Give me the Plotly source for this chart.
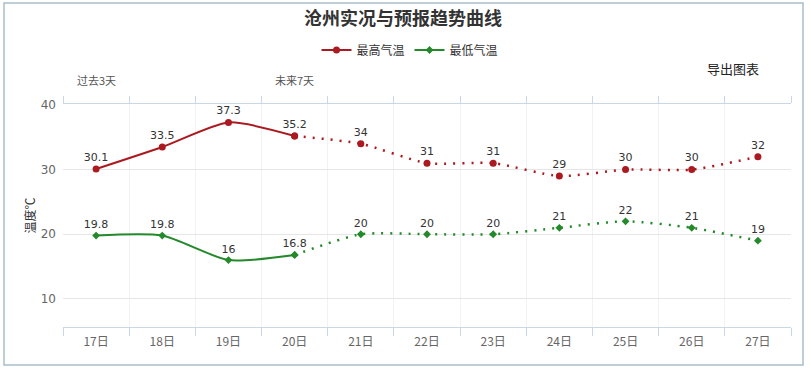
import plotly.graph_objects as go

days = ["17日", "18日", "19日", "20日", "21日", "22日", "23日", "24日", "25日", "26日", "27日"]
tmax = [30.1, 33.5, 37.3, 35.2, 34, 31, 31, 29, 30, 30, 32]
tmin = [19.8, 19.8, 16, 16.8, 20, 20, 20, 21, 22, 21, 19]
n_obs = 4  # 17-20 observed (solid), 20-27 forecast (dotted)
top_labels = ["过去3天", "", "", "未来7天", "", "", "", "", "", "", ""]

RED = "#ab1a20"
GREEN = "#23892a"
NUM = "DejaVu Sans, Noto Sans CJK SC"
CJK = "Noto Sans CJK SC, DejaVu Sans"
SMOOTH = 0.65

def fmt(v):
    return str(int(v)) if float(v).is_integer() else str(v)

fig = go.Figure()

# observed (solid) parts
fig.add_trace(go.Scatter(x=days[:n_obs], y=tmax[:n_obs], name="最高气温",
                         mode="lines+markers+text", text=[fmt(v) for v in tmax[:n_obs]],
                         textposition="top center", textfont=dict(family=NUM, size=11, color="#333"),
                         line=dict(color=RED, width=2, shape="spline", smoothing=SMOOTH),
                         marker=dict(color=RED, size=7, symbol="circle"), cliponaxis=False))
fig.add_trace(go.Scatter(x=days[:n_obs], y=tmin[:n_obs], name="最低气温",
                         mode="lines+markers+text", text=[fmt(v) for v in tmin[:n_obs]],
                         textposition="top center", textfont=dict(family=NUM, size=11, color="#333"),
                         line=dict(color=GREEN, width=2, shape="spline", smoothing=SMOOTH),
                         marker=dict(color=GREEN, size=6, symbol="diamond"), cliponaxis=False))
# forecast (dotted) parts
fig.add_trace(go.Scatter(x=days[n_obs - 1:], y=tmax[n_obs - 1:], showlegend=False,
                         mode="lines+markers+text", text=[""] + [fmt(v) for v in tmax[n_obs:]],
                         textposition="top center", textfont=dict(family=NUM, size=11, color="#333"),
                         line=dict(color=RED, width=2.5, shape="spline", smoothing=SMOOTH, dash="2px,7px"),
                         marker=dict(color=RED, size=7, symbol="circle"), cliponaxis=False))
fig.add_trace(go.Scatter(x=days[n_obs - 1:], y=tmin[n_obs - 1:], showlegend=False,
                         mode="lines+markers+text", text=[""] + [fmt(v) for v in tmin[n_obs:]],
                         textposition="top center", textfont=dict(family=NUM, size=11, color="#333"),
                         line=dict(color=GREEN, width=2.5, shape="spline", smoothing=SMOOTH, dash="2px,7px"),
                         marker=dict(color=GREEN, size=6, symbol="diamond"), cliponaxis=False))
# invisible trace for the top axis
fig.add_trace(go.Scatter(x=days, y=[None] * len(days), xaxis="x2", showlegend=False,
                         hoverinfo="skip", mode="markers"))

L, R, T, B = 63, 20, 104, 43
W, H = 811, 370
pw, ph = W - L - R, H - T - B

def px_x(x):
    return (x - L) / pw

def px_y(y):
    return (H - B - y) / ph

fig.update_layout(
    width=W, height=H,
    margin=dict(l=L, r=R, t=T, b=B),
    paper_bgcolor="white", plot_bgcolor="white",
    title=dict(text="<b>沧州实况与预报趋势曲线</b>", x=403 / W, xref="container", xanchor="center",
               y=1 - 19 / H, yanchor="middle", font=dict(family=CJK, size=18, color="#333")),
    legend=dict(orientation="h", x=px_x(410), xanchor="center", y=px_y(50), yanchor="middle",
                font=dict(family=CJK, size=12, color="#333"), itemwidth=30, traceorder="normal"),
    xaxis=dict(type="category", categoryorder="array", categoryarray=days, range=[-0.5, 10.5],
               tickson="boundaries", ticks="outside", ticklen=8, tickcolor="#ccd6eb",
               showline=True, linecolor="#ccd6eb", linewidth=1, ticklabelstandoff=4,
               showgrid=True, gridcolor="#f2f2f2", zeroline=False,
               tickfont=dict(family=CJK, size=12, color="#666")),
    xaxis2=dict(type="category", categoryorder="array", categoryarray=days, range=[-0.5, 10.5],
                overlaying="x", side="top", tickson="boundaries", ticks="outside", ticklen=7,
                tickcolor="#ccd6eb", showline=True, linecolor="#ccd6eb", showgrid=False,
                showticklabels=False),
    yaxis=dict(range=[5.65, 40.15], tickvals=[10, 20, 30, 40], showgrid=True, gridcolor="#e6e6e6",
               zeroline=False, showline=False, ticks="", ticklabelstandoff=6,
               tickfont=dict(family=NUM, size=12, color="#666"),
               title=dict(text="温度℃", font=dict(family=CJK, size=12, color="#333"), standoff=2)),
    showlegend=True,
)

# top axis category labels
for i, lab in enumerate(top_labels):
    if lab:
        fig.add_annotation(x=days[i], xref="x", y=px_y(80), yref="paper", text=lab, showarrow=False,
                           font=dict(family=CJK, size=11, color="#555"), xanchor="center", yanchor="middle")

fig.add_annotation(x=px_x(733), xref="paper", y=px_y(68), yref="paper", text="导出图表", showarrow=False,
                   font=dict(family=CJK, size=13, color="#222"), xanchor="center", yanchor="middle")

# outer border
fig.add_shape(type="rect", xref="paper", yref="paper", x0=px_x(4), x1=px_x(803), y0=px_y(365), y1=px_y(3),
              line=dict(color="#a9bec9", width=1.5), fillcolor="rgba(0,0,0,0)", layer="below")

fig.write_html("out.html", config={"displayModeBar": False},
               post_script="document.body.style.margin='0';document.body.style.overflow='hidden';")
